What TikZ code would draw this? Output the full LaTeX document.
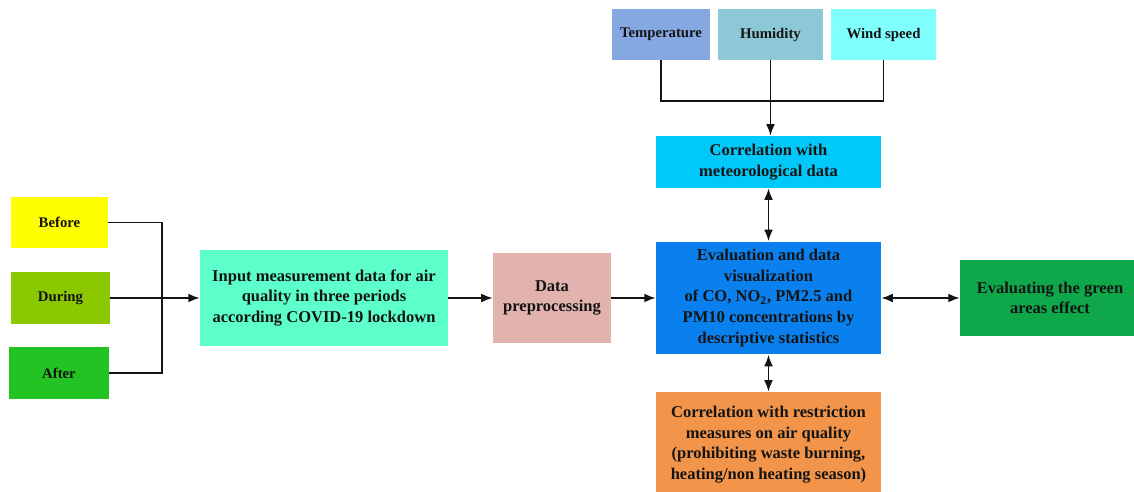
\documentclass[tikz,border=0pt]{standalone}
\usepackage{fontspec}
\setmainfont{Liberation Serif}
\usetikzlibrary{arrows.meta}
\definecolor{cBefore}{HTML}{FFFF00}
\definecolor{cDuring}{HTML}{8CC800}
\definecolor{cAfter}{HTML}{22C322}
\definecolor{cInput}{HTML}{5DFFCB}
\definecolor{cPrep}{HTML}{E2B2AE}
\definecolor{cEval}{HTML}{0A80EE}
\definecolor{cGreen}{HTML}{0EA84A}
\definecolor{cMet}{HTML}{00C8F8}
\definecolor{cTemp}{HTML}{86A8E2}
\definecolor{cHum}{HTML}{8CC8D6}
\definecolor{cWind}{HTML}{80FFFF}
\definecolor{cRestr}{HTML}{F2954A}
\definecolor{cLine}{HTML}{141414}
\tikzset{
  box/.style={draw=none, align=center, inner sep=1pt,
    font=\fontsize{9.4}{11.7}\selectfont\bfseries, text=black!92},
  smallbox/.style={box, font=\fontsize{8.4}{10}\selectfont\bfseries},
  conn/.style={draw=cLine, line width=0.85pt},
  arr/.style={conn, -{Latex[length=6.5pt,width=5pt]}},
  darr/.style={conn, {Latex[length=6.5pt,width=5pt]}-{Latex[length=6.5pt,width=5pt]}},
}
\begin{document}
\begin{tikzpicture}[x=0.02cm,y=-0.02cm]
\useasboundingbox (0,0) rectangle (1134,492);
\node[smallbox, fill=cBefore, minimum width=1.94cm, minimum height=1.02cm] (before) at (59.5,222.5) {Before};
\node[smallbox, fill=cDuring, minimum width=1.98cm, minimum height=1.04cm] (during) at (60.5,298) {During};
\node[smallbox, fill=cAfter, minimum width=2.0cm, minimum height=1.04cm] (after) at (59,373) {After};
\node[box, fill=cInput, minimum width=4.96cm, minimum height=1.92cm] (input) at (324,298) {Input measurement data for air\\quality in three periods\\according COVID-19 lockdown};
\node[box, fill=cPrep, minimum width=2.36cm, minimum height=1.8cm] (prep) at (552,298) {Data\\preprocessing};
\node[box, fill=cEval, minimum width=4.5cm, minimum height=2.26cm] (eval) at (768.5,298) {Evaluation and data\\visualization\\of CO, NO\textsubscript{2}, PM2.5 and\\PM10 concentrations by\\descriptive statistics};
\node[box, fill=cGreen, minimum width=3.6cm, minimum height=1.54cm] (green) at (1050,298) {Evaluating the green\\areas effect};
\node[box, fill=cMet, minimum width=4.5cm, minimum height=1.04cm] (met) at (768.5,162) {Correlation with\\meteorological data};
\node[smallbox, fill=cTemp, minimum width=1.98cm, minimum height=1.02cm] (temp) at (661,34.5) {Temperature};
\node[smallbox, fill=cHum, minimum width=2.1cm, minimum height=1.02cm] (hum) at (770.5,34.5) {Humidity};
\node[smallbox, fill=cWind, minimum width=2.1cm, minimum height=1.02cm] (wind) at (883.5,34.5) {Wind speed};
\node[box, fill=cRestr, minimum width=4.5cm, minimum height=2.1cm] (restr) at (768.5,444.5) {Correlation with restriction\\measures on air quality\\(prohibiting waste burning,\\heating/non heating season)};
% left merge
\coordinate (j) at (162,298);
\draw[conn] (before.east) -| (j);
\draw[conn] (after.east) -| (j);
\draw[arr] (during.east) -- (input.west);
\draw[arr] (input.east) -- (prep.west);
\draw[arr] (prep.east) -- (eval.west);
\draw[darr] (eval.east) -- (green.west);
% top merge
\coordinate (k) at (770.5,101);
\draw[conn] (temp.south) |- (k);
\draw[conn] (wind.south) |- (k);
\draw[arr] (hum.south) -- (hum.south |- met.north);
\draw[darr] (met.south) -- (eval.north);
\draw[darr] (eval.south) -- (restr.north);
\end{tikzpicture}
\end{document}
